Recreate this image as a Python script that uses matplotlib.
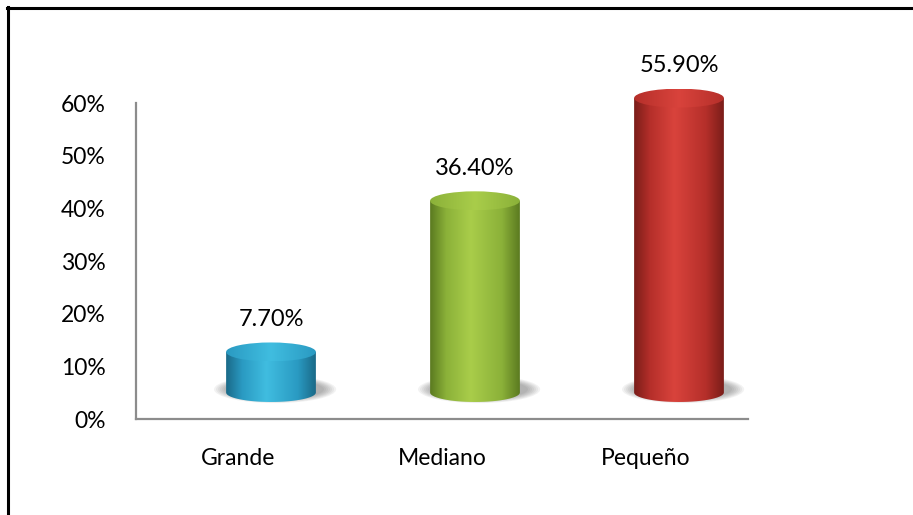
import numpy as np
import matplotlib
matplotlib.use("Agg")
import matplotlib.pyplot as plt
from matplotlib.colors import LinearSegmentedColormap
from matplotlib.patches import Ellipse, Polygon
from matplotlib.lines import Line2D

# data
categories = ["Grande", "Mediano", "Pequeño"]
values = [7.7, 36.4, 55.9]
labels = ["7.70%", "36.40%", "55.90%"]
yticks = [0, 10, 20, 30, 40, 50, 60]
ytick_labels = ["0%", "10%", "20%", "30%", "40%", "50%", "60%"]

# dark edge, mid, light
palette = [
    ("#1a6a88", "#2a9ac2", "#40bde0"),
    ("#5b7a20", "#8bb139", "#a9cd4a"),
    ("#7a1d19", "#b52f2a", "#d9433c"),
]

plt.rcParams['font.family'] = ['Lato', 'DejaVu Sans']

W, H = 913, 515
fig = plt.figure(figsize=(W / 100, H / 100), dpi=100)

# axes box in pixels
x0, x1 = 136, 748
y0, y1 = 419, 103
pos = [x0 / W, (H - y0) / H, (x1 - x0) / W, (y0 - y1) / H]
ax = fig.add_axes(pos)
ax.set_xlim(-0.5, 2.5)
ax.set_ylim(0, 60)
ax.set_yticks(yticks)
ax.set_yticklabels(ytick_labels)
ax.set_xticks(range(len(categories)))
ax.set_xticklabels(categories)
for s in ["top", "right"]:
    ax.spines[s].set_visible(False)
for s in ["left", "bottom"]:
    ax.spines[s].set_color("#8c8c8c")
    ax.spines[s].set_linewidth(1.6)
ax.tick_params(axis="both", length=0, labelsize=16.5, colors="black")
ax.tick_params(axis="y", pad=22)
ax.tick_params(axis="x", pad=21)

# cylinders sit on a 3D floor, drawn a bit up and to the right
dx, dy = 33, 26.5
ppu = (y0 - y1) / 60.0  # pixels per unit
lo = -8  # room below the floor for base ellipses and shadows
ax2 = fig.add_axes([pos[0] + dx / W, pos[1] + (dy + lo * ppu) / H,
                    pos[2], pos[3] - lo * ppu / H])
ax2.axis("off")

w = 0.44
eh = 3.6
grad = np.linspace(0, 1, 256).reshape(1, -1)

for i, (v, lab) in enumerate(zip(values, labels)):
    dark, mid, light = palette[i]
    cmap = LinearSegmentedColormap.from_list(
        "c%d" % i, [(0, dark), (0.18, mid), (0.45, light), (0.8, mid), (1, dark)])
    cmap_top = LinearSegmentedColormap.from_list(
        "t%d" % i, [(0, mid), (0.5, light), (1, mid)])

    # soft shadow on the floor
    for k in range(7):
        sh = Ellipse((i + 0.02, 0.6), w * (1.36 - k * 0.045), eh * (1.45 - k * 0.07),
                     facecolor="#4a4a4a", edgecolor="none", alpha=0.07, zorder=1)
        ax2.add_patch(sh)

    # body with bottom half-ellipse
    t = np.linspace(np.pi, 2 * np.pi, 60)
    arc = np.column_stack([i + w / 2 * np.cos(t), eh / 2 * np.sin(t)])
    pts = np.vstack([[i - w / 2, v], arc, [i + w / 2, v]])
    body = Polygon(pts, closed=True, facecolor="none", edgecolor="none")
    ax2.add_patch(body)
    im = ax2.imshow(grad, cmap=cmap, aspect="auto", zorder=2,
                    extent=[i - w / 2, i + w / 2, -eh / 2, v], interpolation="bilinear")
    im.set_clip_path(body)

    # top ellipse
    top = Ellipse((i, v), w, eh, facecolor="none", edgecolor="none")
    ax2.add_patch(top)
    im2 = ax2.imshow(grad, cmap=cmap_top, aspect="auto", zorder=3,
                     extent=[i - w / 2, i + w / 2, v - eh / 2, v + eh / 2],
                     interpolation="bilinear")
    im2.set_clip_path(top)

    ax2.annotate(lab, (i, v + eh / 2), xytext=(0, 9), textcoords="offset points",
                 ha="center", va="bottom", fontsize=17, color="black", zorder=4)

ax2.set_xlim(-0.5, 2.5)
ax2.set_ylim(lo, 60)

# outer frame (top and left edges visible)
fig.add_artist(Line2D([7 / W, 1], [1 - 7.5 / H, 1 - 7.5 / H], color="black", lw=2.2))
fig.add_artist(Line2D([7.5 / W, 7.5 / W], [0, 1 - 7 / H], color="black", lw=2.2))

fig.savefig("out.png", dpi=100)
